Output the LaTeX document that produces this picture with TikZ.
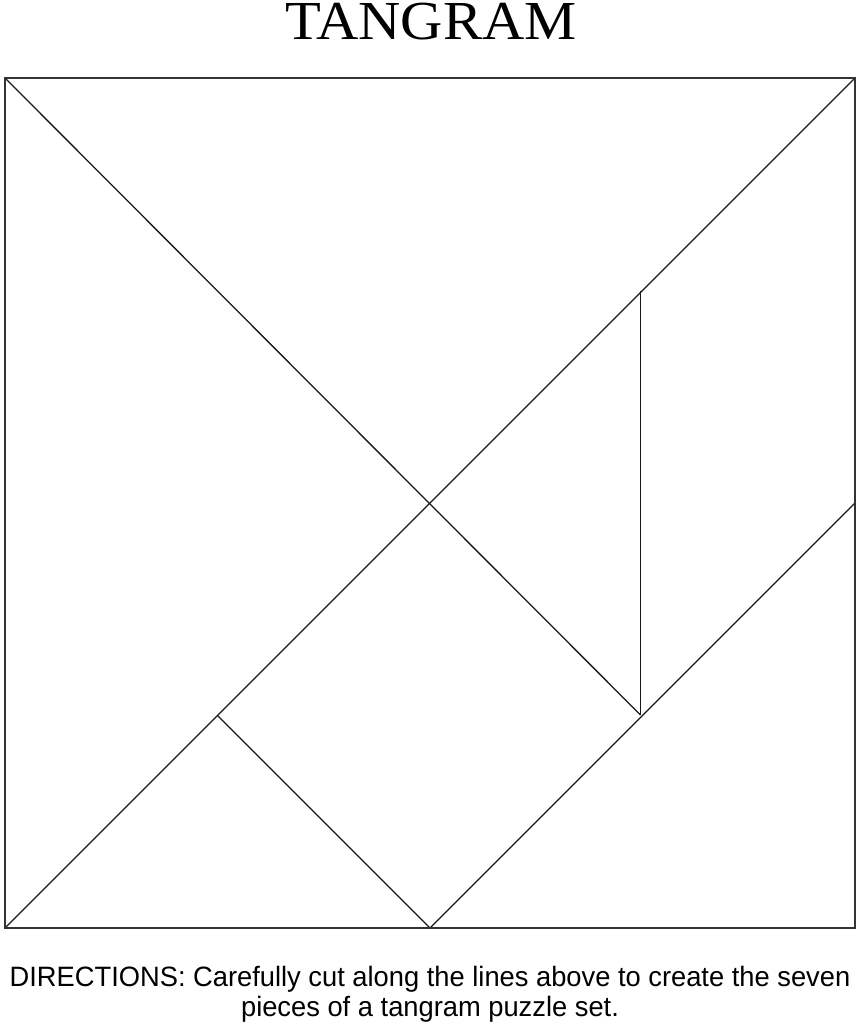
\documentclass[tikz,border=0pt]{standalone}
\usepackage{fontspec}
\setmainfont{Liberation Serif}
\newfontfamily\dirfont{Liberation Sans}
\begin{document}
\begin{tikzpicture}[x=1pt,y=-1pt,
  cut/.style={line width=1.3pt, draw=black!90},
  frame/.style={line width=2pt, draw=black!80},
  dirtext/.style={font=\dirfont\fontsize{28}{32}\selectfont, anchor=base, inner sep=0pt, xscale=0.975}]
\useasboundingbox (0,0) rectangle (860,1024);
\fill[white] (0,0) rectangle (860,1024);
% corners and key points
\coordinate (TL) at (5,78);
\coordinate (TR) at (855,78);
\coordinate (BL) at (5,928);
\coordinate (BR) at (855,928);
\coordinate (C) at (430,503);
\coordinate (Q) at (640.5,715);
\coordinate (P) at (640.5,290.5);
\coordinate (MR) at (855,503);
\coordinate (MB) at (430,928);
\coordinate (S) at (217.5,715.5);
% cuts
\draw[cut] (TL) -- (Q);
\draw[cut] (BL) -- (TR);
\draw[cut] (P) -- (Q);
\draw[cut] (MR) -- (MB);
\draw[cut] (S) -- (MB);
\draw[frame] (TL) rectangle (BR);
% texts
\node[font=\fontsize{55}{55}\selectfont, anchor=base, inner sep=0pt, text height=37pt, xscale=1.065] (title) at (431,40) {TANGRAM};
\node[dirtext] (dir1) at (430,986) {DIRECTIONS: Carefully cut along the lines above to create the seven};
\node[dirtext] (dir2) at (430,1016) {pieces of a tangram puzzle set.};
\end{tikzpicture}
\end{document}
